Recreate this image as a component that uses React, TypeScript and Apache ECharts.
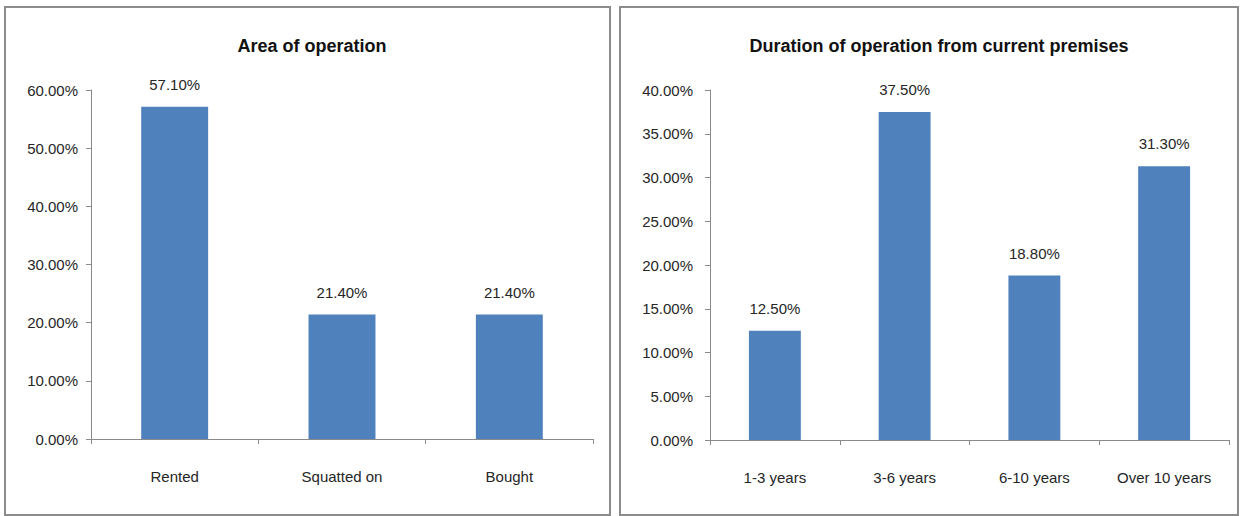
import React, { useEffect, useRef } from "react";
import * as echarts from "echarts";

const areaCategories = ["Rented", "Squatted on", "Bought"];
const areaValues = [57.1, 21.4, 21.4];
const durationCategories = ["1-3 years", "3-6 years", "6-10 years", "Over 10 years"];
const durationValues = [12.5, 37.5, 18.8, 31.3];
const titles = ["Area of operation", "Duration of operation from current premises"];

const FONT = "'Liberation Sans Narrow', 'Liberation Sans', sans-serif";
const BAR = "#4F81BD";
const AXIS = "#8a8a8a";
const TEXT = "#262626";

export default function App() {
  const ref = useRef<HTMLDivElement>(null);
  useEffect(() => {
    document.body.style.margin = "0";
    const chart = echarts.init(ref.current!, null, { renderer: "svg" });
    const pct = (v: number) => v.toFixed(2) + "%";
    const yAxisCommon = {
      type: "value",
      min: 0,
      axisLine: { show: true, lineStyle: { color: AXIS } },
      axisTick: { show: true, length: 5, lineStyle: { color: AXIS } },
      splitLine: { show: false },
    };
    const yLabel = (margin: number) => ({ formatter: pct, color: TEXT, fontFamily: FONT, fontSize: 15, margin });
    const xAxisCommon = {
      type: "category",
      axisLine: { show: true, lineStyle: { color: AXIS } },
      axisTick: { show: true, length: 5, lineStyle: { color: AXIS } },
      axisLabel: { color: TEXT, fontFamily: FONT, fontSize: 15, margin: 30 },
    };
    const labelCommon = {
      show: true,
      position: "top",
      distance: 15,
      formatter: (p: any) => pct(p.value),
      color: TEXT,
      fontFamily: FONT,
      fontSize: 15,
    };
    const titleStyle = { fontFamily: FONT, fontSize: 18, fontWeight: "bold", color: "#111" };
    chart.setOption({
      animation: false,
      backgroundColor: "#ffffff",
      title: [
        { text: titles[0], left: 307, top: 32, textAlign: "center", textStyle: titleStyle },
        { text: titles[1], left: 934, top: 32, textAlign: "center", textStyle: titleStyle },
      ],
      graphic: [
        { type: "rect", shape: { x: 5, y: 7, width: 605, height: 508 }, style: { fill: "none", stroke: "#8c8c8c", lineWidth: 2 } },
        { type: "rect", shape: { x: 620, y: 7, width: 618, height: 508 }, style: { fill: "none", stroke: "#8c8c8c", lineWidth: 2 } },
      ],
      grid: [
        { left: 91, right: 649, top: 90, bottom: 77 },
        { left: 710, right: 13, top: 90, bottom: 76 },
      ],
      xAxis: [
        { ...xAxisCommon, gridIndex: 0, data: areaCategories },
        { ...xAxisCommon, gridIndex: 1, data: durationCategories },
      ],
      yAxis: [
        { ...yAxisCommon, gridIndex: 0, max: 60, interval: 10, axisLabel: yLabel(13) },
        { ...yAxisCommon, gridIndex: 1, max: 40, interval: 5, axisLabel: yLabel(17) },
      ],
      series: [
        { type: "bar", xAxisIndex: 0, yAxisIndex: 0, data: areaValues, barWidth: "40%", itemStyle: { color: BAR }, label: labelCommon },
        { type: "bar", xAxisIndex: 1, yAxisIndex: 1, data: durationValues, barWidth: "40%", itemStyle: { color: BAR }, label: labelCommon },
      ],
    });
    return () => chart.dispose();
  }, []);
  return <div ref={ref} style={{ width: 1242, height: 516 }} />;
}
